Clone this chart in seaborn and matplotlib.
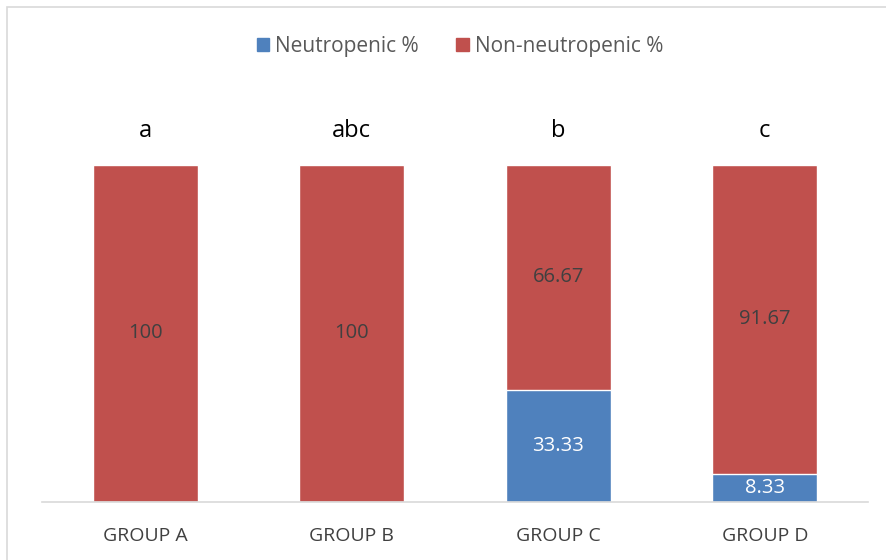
import matplotlib
matplotlib.use('Agg')
import matplotlib.pyplot as plt
import seaborn as sns
import pandas as pd
from matplotlib.patches import Patch, Rectangle

groups      = ['GROUP A', 'GROUP B', 'GROUP C', 'GROUP D']
neutropenic = [0, 0, 33.33, 8.33]
non_neutro  = [100, 100, 66.67, 91.67]
sig_letters = ['a', 'abc', 'b', 'c']

BLUE = '#4F81BD'
RED  = '#C0504D'
GREY = '#404040'

sns.set_theme(style='white')
plt.rcParams['font.family'] = ['Open Sans', 'DejaVu Sans']

df = pd.DataFrame({'group': groups, 'neutro': neutropenic, 'non': non_neutro})
df['total'] = df['neutro'] + df['non']

fig = plt.figure(figsize=(8.86, 5.6), dpi=100)
ax = fig.add_axes([42 / 886, 58 / 560, 826 / 886, (502 - 97.6) / 560])

# stacked: total in red, neutropenic overlaid in blue
sns.barplot(data=df, x='group', y='total', color=RED, saturation=1, width=0.51, ax=ax)
sns.barplot(data=df, x='group', y='neutro', color=BLUE, saturation=1, width=0.51, ax=ax)

for i, row in df.iterrows():
    if row['neutro'] > 0:
        ax.text(i, row['neutro'] / 2, f"{row['neutro']:g}", ha='center', va='center',
                color='white', fontsize=14.5)
    ax.text(i, row['neutro'] + row['non'] / 2, f"{row['non']:g}", ha='center', va='center',
            color=GREY, fontsize=14.5)
    ax.text(i, row['total'] + 10, sig_letters[i], ha='center', va='center',
            color='black', fontsize=17)

ax.set_xlim(-0.5, 3.5)
ax.set_ylim(0, 120)
ax.set_xlabel('')
ax.set_ylabel('')
ax.set_yticks([])
ax.tick_params(axis='x', length=0, pad=18, labelsize=14, labelcolor=GREY)
sns.despine(ax=ax, left=True, top=True, right=True, bottom=False)
ax.spines['bottom'].set_color('#d9d9d9')
ax.spines['bottom'].set_linewidth(1.2)

handles = [Patch(color=BLUE, label='Neutropenic %'), Patch(color=RED, label='Non-neutropenic %')]
fig.legend(handles=handles, loc='center', bbox_to_anchor=(460 / 886, 1 - 46 / 560), ncol=2,
           frameon=False, fontsize=15, handlelength=0.6, handleheight=0.6,
           handletextpad=0.3, columnspacing=1.8, labelcolor='#595959')

fig.patches.append(Rectangle((7 / 886, -0.1), 1.1, 1 - 7 / 560 + 0.1, transform=fig.transFigure,
                             fill=False, edgecolor='#d9d9d9', linewidth=1.2))

fig.savefig('out.png', dpi=100)
